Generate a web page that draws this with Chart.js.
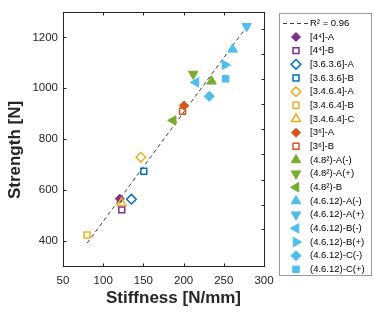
<!DOCTYPE html>
<html>
<head>
<meta charset="utf-8">
<script src="https://cdn.jsdelivr.net/npm/chart.js@4.4.1/dist/chart.umd.min.js"></script>
<style>
  html, body { margin: 0; padding: 0; background: #fff; }
  #wrap { width: 374px; height: 312px; }
</style>
</head>
<body>
<div id="wrap"><canvas id="grafico" width="374" height="312"></canvas></div>
<script>
// datos
const seriesNames = [
  '[4⁴]-A', '[4⁴]-B', '[3.6.3.6]-A', '[3.6.3.6]-B', '[3.4.6.4]-A', '[3.4.6.4]-B', '[3.4.6.4]-C',
  '[3⁶]-A', '[3⁶]-B', '(4.8²)-A(-)', '(4.8²)-A(+)', '(4.8²)-B',
  '(4.6.12)-A(-)', '(4.6.12)-A(+)', '(4.6.12)-B(-)', '(4.6.12)-B(+)', '(4.6.12)-C(-)', '(4.6.12)-C(+)'
];
const stiffness = [120.6, 123.1, 135.1, 150.5, 146.8, 79.9, 122.7, 200.3, 198.7, 234.8, 212.0, 187.0, 261.0, 278.4, 215.3, 251.4, 231.9, 252.3];
const strength  = [565, 521, 563, 673, 728, 422, 548, 932, 909, 1027, 1056, 873, 1153, 1244, 1023, 1092, 968, 1037];

const fitLabel = 'R² = 0.96';
const fitX = [80, 278];
const fitY = [390, 1240];

const xTicks = [50, 100, 150, 200, 250, 300];
const yTicks = [400, 600, 800, 1000, 1200];
const rightTicks = [444, 541, 640, 739, 838, 937, 1036, 1135, 1233];

const xTitle = 'Stiffness [N/mm]';
const yTitle = 'Strength [N]';

// colores tipo Matlab
const PURPLE = '#7E2F8E', BLUE = '#0072BD', ORANGE = '#EDB120', RED = '#D95319', GREEN = '#77AC30', CYAN = '#4DBEEE';
const FONT = '"Liberation Sans", Arial, Helvetica, sans-serif';

// [forma, rotacion, color, relleno, radio]
const markers = [
  ['rectRot', 0, PURPLE, true, 4.5],
  ['rect', 0, PURPLE, false, 4.2],
  ['rectRot', 0, BLUE, false, 4.8],
  ['rect', 0, BLUE, false, 4.2],
  ['rectRot', 0, ORANGE, false, 4.8],
  ['rect', 0, ORANGE, false, 4.2],
  ['triangle', 0, ORANGE, false, 5.2],
  ['rectRot', 0, RED, true, 4.5],
  ['rect', 0, RED, false, 4.2],
  ['triangle', 0, GREEN, true, 5.5],
  ['triangle', 180, GREEN, true, 5.5],
  ['triangle', 270, GREEN, true, 5.5],
  ['triangle', 0, CYAN, true, 5.5],
  ['triangle', 180, CYAN, true, 5.5],
  ['triangle', 270, CYAN, true, 5.5],
  ['triangle', 90, CYAN, true, 5.5],
  ['rectRot', 0, CYAN, true, 5],
  ['rect', 0, CYAN, true, 4.6]
];

const datasets = [{
  type: 'line',
  label: fitLabel,
  data: fitX.map((x, i) => ({ x, y: fitY[i] })),
  borderColor: '#404040',
  borderWidth: 1,
  borderDash: [4, 3],
  pointRadius: 0,
  fill: false,
  order: 0
}];
seriesNames.forEach((nombre, i) => {
  const [forma, rot, color, lleno, radio] = markers[i];
  datasets.push({
    type: 'scatter',
    label: nombre,
    data: [{ x: stiffness[i], y: strength[i] }],
    pointStyle: forma,
    pointRotation: rot,
    pointRadius: radio,
    pointBackgroundColor: lleno ? color : 'rgba(255,255,255,0)',
    pointBorderColor: color,
    pointBorderWidth: lleno ? 1 : 1.5,
    order: -1 - i
  });
});

// caja de ejes con marcas hacia dentro y titulos de ejes
const marcoEjes = {
  id: 'marcoEjes',
  afterDraw(chart) {
    const { ctx, chartArea: a, scales: { x, y } } = chart;
    const L = Math.round(a.left) + 0.5, R = Math.round(a.right) + 0.5;
    const T = Math.round(a.top) + 0.5, B = Math.round(a.bottom) + 0.5;
    ctx.save();
    ctx.strokeStyle = '#262626';
    ctx.lineWidth = 1;
    ctx.strokeRect(L, T, R - L, B - T);
    ctx.beginPath();
    xTicks.slice(1, -1).forEach(v => {
      const px = Math.round(x.getPixelForValue(v)) + 0.5;
      ctx.moveTo(px, B); ctx.lineTo(px, B - 3);
      ctx.moveTo(px, T); ctx.lineTo(px, T + 3);
    });
    yTicks.forEach(v => {
      const py = Math.round(y.getPixelForValue(v)) + 0.5;
      ctx.moveTo(L, py); ctx.lineTo(L + 3, py);
    });
    rightTicks.forEach(v => {
      const py = Math.round(y.getPixelForValue(v)) + 0.5;
      ctx.moveTo(R, py); ctx.lineTo(R - 3, py);
    });
    ctx.stroke();

    // titulos (Matlab los deja algo desplazados del centro)
    ctx.fillStyle = '#262626';
    ctx.font = 'bold 17px ' + FONT;
    ctx.textAlign = 'center';
    ctx.textBaseline = 'middle';
    ctx.fillText(xTitle, (a.left + a.right) / 2 + 10, 298);
    ctx.translate(15, (a.top + a.bottom) / 2 + 11);
    ctx.rotate(-Math.PI / 2);
    ctx.fillText(yTitle, 0, 0);
    ctx.restore();
  }
};

// leyenda con recuadro a la derecha
const leyenda = {
  id: 'leyenda',
  afterDraw(chart) {
    const ctx = chart.ctx;
    const dibujarPunto = Chart.helpers && Chart.helpers.drawPoint;
    ctx.save();
    ctx.fillStyle = '#fff';
    ctx.fillRect(279.5, 13.5, 92, 262);
    ctx.strokeStyle = '#9a9a9a';
    ctx.lineWidth = 1;
    ctx.strokeRect(279.5, 13.5, 92, 262);
    ctx.font = '9.5px ' + FONT;
    ctx.textBaseline = 'middle';
    ctx.textAlign = 'left';
    chart.data.datasets.forEach((ds, i) => {
      const cy = 23.3 + i * 13.67;
      if (ds.type === 'line') {
        ctx.save();
        ctx.strokeStyle = ds.borderColor;
        ctx.lineWidth = 1;
        ctx.setLineDash([4, 3]);
        ctx.beginPath();
        ctx.moveTo(283, Math.round(cy) + 0.5);
        ctx.lineTo(308, Math.round(cy) + 0.5);
        ctx.stroke();
        ctx.restore();
      } else if (dibujarPunto) {
        ctx.save();
        ctx.fillStyle = ds.pointBackgroundColor;
        ctx.strokeStyle = ds.pointBorderColor;
        ctx.lineWidth = ds.pointBorderWidth;
        dibujarPunto(ctx, {
          pointStyle: ds.pointStyle,
          rotation: ds.pointRotation,
          radius: ds.pointRadius,
          borderWidth: ds.pointBorderWidth
        }, 296, cy);
        ctx.restore();
      }
      ctx.fillStyle = '#000';
      ctx.fillText(ds.label, 310, cy);
    });
    ctx.restore();
  }
};

const ejeTicks = vals => scale => { scale.ticks = vals.map(v => ({ value: v })); };

new Chart(document.getElementById('grafico'), {
  data: { datasets },
  options: {
    responsive: false,
    animation: false,
    events: [],
    layout: { padding: { top: 12, right: 110, bottom: 0, left: 0 } },
    plugins: { legend: { display: false }, tooltip: { enabled: false } },
    scales: {
      x: {
        type: 'linear',
        min: 50, max: 300,
        afterBuildTicks: ejeTicks(xTicks),
        afterFit: s => { s.height = 46; },
        grid: { display: false, drawTicks: false },
        border: { display: false },
        ticks: { color: '#262626', font: { size: 11.5, family: FONT }, padding: 8, maxRotation: 0, autoSkip: false, callback: v => String(v) }
      },
      y: {
        type: 'linear',
        min: 300, max: 1300,
        afterBuildTicks: ejeTicks(yTicks),
        afterFit: s => { s.width = 63; },
        grid: { display: false, drawTicks: false },
        border: { display: false },
        ticks: { color: '#262626', font: { size: 11.5, family: FONT }, padding: 5, callback: v => String(v) }
      }
    }
  },
  plugins: [marcoEjes, leyenda]
});
</script>
</body>
</html>
